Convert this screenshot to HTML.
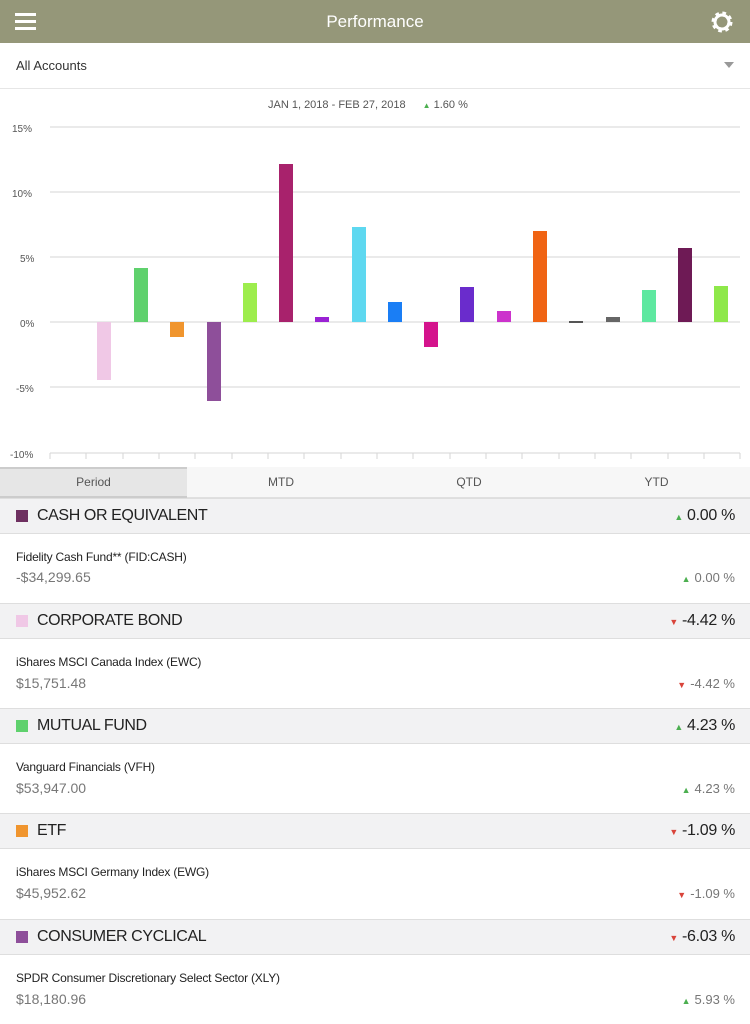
<!DOCTYPE html>
<html><head><meta charset="utf-8"><style>
*{margin:0;padding:0;box-sizing:border-box}
body{width:750px;height:1000px;overflow:hidden;background:#fff;font-family:"Liberation Sans",sans-serif;position:relative}
.a{position:absolute}
.hdr{left:0;top:0;width:750px;height:43px;background:#959779;color:#fff;font-size:17px;text-align:center;line-height:43px}
.sec{left:0;width:750px;height:36px;background:#f2f2f3;border-top:1px solid #dedede;border-bottom:1px solid #dedede}
.sec .sq{position:absolute;left:16px;top:11px;width:12px;height:12px}
.sec .t{position:absolute;left:37px;top:8px;font-size:16px;color:#222;letter-spacing:-0.4px}
.sec .v{position:absolute;right:15px;top:8px;font-size:16px;color:#222;letter-spacing:-0.3px}
.it .n{position:absolute;left:16px;font-size:12px;color:#222;letter-spacing:-0.2px}
.it .p{position:absolute;left:16px;font-size:14px;color:#777}
.it .v{position:absolute;right:15px;font-size:13px;color:#777}
.up{color:#4caf50;font-size:9px;margin-right:4px}
.dn{color:#d9443a;font-size:9px;margin-right:4px}
</style></head><body>
<div class="a hdr">Performance</div>
<div class="a" style="left:15px;top:13px;width:21px;height:3px;background:#fff;box-shadow:0 7px 0 #fff,0 14px 0 #fff"></div>
<svg class="a" style="left:710px;top:10px" width="24" height="24" viewBox="0 0 24 24"><circle cx="12" cy="12" r="8" fill="none" stroke="#fff" stroke-width="5" stroke-dasharray="3.2 3.1"/><circle cx="12" cy="12" r="7" fill="none" stroke="#fff" stroke-width="3"/></svg>
<div class="a" style="left:0;top:43px;width:750px;height:46px;border-bottom:1px solid #e6e6e6"></div>
<div class="a" style="left:16px;top:58px;font-size:13px;color:#333">All Accounts</div>
<div class="a" style="left:724px;top:62px;width:0;height:0;border-left:5px solid transparent;border-right:5px solid transparent;border-top:6px solid #999"></div>
<div class="a" style="left:268px;top:99px;font-size:11px;color:#555">JAN 1, 2018 - FEB 27, 2018 <span style="margin-left:14px;color:#4caf50;font-size:8px">▲</span> 1.60 %</div>
<svg class="a" style="left:0;top:0" width="750" height="470">
<g font-size="10" fill="#555" font-family="Liberation Sans">
<text x="12" y="132">15%</text><text x="12" y="197">10%</text><text x="20" y="262">5%</text><text x="20" y="327">0%</text><text x="16" y="392">-5%</text><text x="10" y="458">-10%</text></g>
<g stroke="#d6d6d6" stroke-width="1">
<line x1="50" y1="127" x2="740" y2="127"/><line x1="50" y1="192" x2="740" y2="192"/><line x1="50" y1="257" x2="740" y2="257"/><line x1="50" y1="322" x2="740" y2="322"/><line x1="50" y1="387" x2="740" y2="387"/><line x1="50" y1="453" x2="740" y2="453"/>
<path d="M50 453v6M86 453v6M123 453v6M159 453v6M195 453v6M232 453v6M268 453v6M304 453v6M341 453v6M377 453v6M413 453v6M450 453v6M486 453v6M522 453v6M559 453v6M595 453v6M631 453v6M668 453v6M704 453v6M740 453v6"/></g>
<rect x="97" y="322" width="14" height="58" fill="#f0c8e6"/>
<rect x="134" y="268" width="14" height="54" fill="#5fd16d"/>
<rect x="170" y="322" width="14" height="15" fill="#f0952e"/>
<rect x="207" y="322" width="14" height="79" fill="#8e4f9a"/>
<rect x="243" y="283" width="14" height="39" fill="#9ded4d"/>
<rect x="279" y="164" width="14" height="158" fill="#a8226c"/>
<rect x="315" y="317" width="14" height="5" fill="#9a22d4"/>
<rect x="352" y="227" width="14" height="95" fill="#5ed8f0"/>
<rect x="388" y="302" width="14" height="20" fill="#1a7ef5"/>
<rect x="424" y="322" width="14" height="25" fill="#d4138c"/>
<rect x="460" y="287" width="14" height="35" fill="#6a2ccc"/>
<rect x="497" y="311" width="14" height="11" fill="#cc33cc"/>
<rect x="533" y="231" width="14" height="91" fill="#f06414"/>
<rect x="569" y="321" width="14" height="2" fill="#555"/>
<rect x="606" y="317" width="14" height="5" fill="#666"/>
<rect x="642" y="290" width="14" height="32" fill="#5ee8a0"/>
<rect x="678" y="248" width="14" height="74" fill="#6e1a55"/>
<rect x="714" y="286" width="14" height="36" fill="#8ee84a"/>
</svg>
<div class="a" style="left:0;top:467px;width:750px;height:31px;background:#f7f7f7;border-bottom:1px solid #e0e0e0"></div>
<div class="a" style="left:0;top:467px;width:187px;height:31px;background:#e6e6e6;border-top:2px solid #ccc;border-bottom:2px solid #ccc"></div>
<div class="a" style="top:475px;left:0;width:187px;text-align:center;font-size:12px;color:#555">Period</div>
<div class="a" style="top:475px;left:187px;width:188px;text-align:center;font-size:12px;color:#555">MTD</div>
<div class="a" style="top:475px;left:375px;width:188px;text-align:center;font-size:12px;color:#555">QTD</div>
<div class="a" style="top:475px;left:563px;width:187px;text-align:center;font-size:12px;color:#555">YTD</div>

<div class="a sec" style="top:498px"><div class="sq" style="background:#6e3060"></div><div class="t">CASH OR EQUIVALENT</div><div class="v"><span class="up">▲</span>0.00 %</div></div>
<div class="a it" style="top:534px;left:0;width:750px;height:69px"><div class="n" style="top:16px">Fidelity Cash Fund** (FID:CASH)</div><div class="p" style="top:35px">-$34,299.65</div><div class="v" style="top:36px"><span class="up">▲</span>0.00 %</div></div>
<div class="a sec" style="top:603px"><div class="sq" style="background:#f0c8e6"></div><div class="t">CORPORATE BOND</div><div class="v"><span class="dn">▼</span>-4.42 %</div></div>
<div class="a it" style="top:639px;left:0;width:750px;height:69px"><div class="n" style="top:16px">iShares MSCI Canada Index (EWC)</div><div class="p" style="top:36px">$15,751.48</div><div class="v" style="top:37px"><span class="dn">▼</span>-4.42 %</div></div>
<div class="a sec" style="top:708px"><div class="sq" style="background:#5fd16d"></div><div class="t">MUTUAL FUND</div><div class="v"><span class="up">▲</span>4.23 %</div></div>
<div class="a it" style="top:744px;left:0;width:750px;height:69px"><div class="n" style="top:16px">Vanguard Financials (VFH)</div><div class="p" style="top:36px">$53,947.00</div><div class="v" style="top:37px"><span class="up">▲</span>4.23 %</div></div>
<div class="a sec" style="top:813px"><div class="sq" style="background:#f0952e"></div><div class="t">ETF</div><div class="v"><span class="dn">▼</span>-1.09 %</div></div>
<div class="a it" style="top:849px;left:0;width:750px;height:69px"><div class="n" style="top:16px">iShares MSCI Germany Index (EWG)</div><div class="p" style="top:36px">$45,952.62</div><div class="v" style="top:37px"><span class="dn">▼</span>-1.09 %</div></div>
<div class="a sec" style="top:919px"><div class="sq" style="background:#8e4f9a"></div><div class="t">CONSUMER CYCLICAL</div><div class="v"><span class="dn">▼</span>-6.03 %</div></div>
<div class="a it" style="top:955px;left:0;width:750px;height:69px"><div class="n" style="top:16px">SPDR Consumer Discretionary Select Sector (XLY)</div><div class="p" style="top:36px">$18,180.96</div><div class="v" style="top:37px"><span class="up">▲</span>5.93 %</div></div>
</body></html>
